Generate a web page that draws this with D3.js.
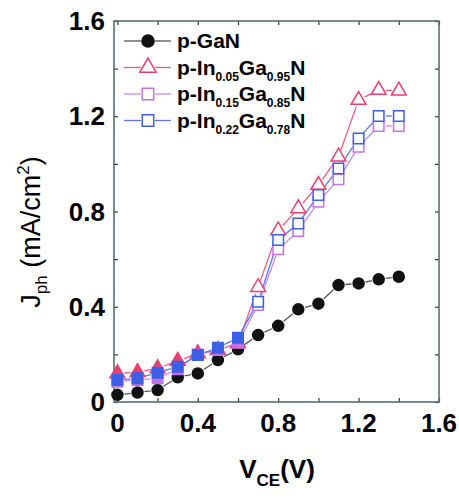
<!DOCTYPE html>
<html>
<head>
<meta charset="utf-8">
<script src="https://cdn.jsdelivr.net/npm/d3@7/dist/d3.min.js"></script>
<style>
  body { margin: 0; background: #fff; }
  text { font-family: "Liberation Sans", Arial, sans-serif; }
</style>
</head>
<body>
<script>
// photocurrent density vs collector-emitter voltage
const vce    = [0, 0.1, 0.2, 0.3, 0.4, 0.5, 0.6, 0.7, 0.8, 0.9, 1.0, 1.1, 1.2, 1.3, 1.4];
const pGaN   = [0.03, 0.04, 0.05, 0.104, 0.12, 0.176, 0.221, 0.281, 0.32, 0.389, 0.413, 0.491, 0.498, 0.515, 0.526];
const pIn005 = [0.12, 0.125, 0.141, 0.172, 0.204, 0.218, 0.246, 0.482, 0.72, 0.813, 0.911, 1.03, 1.268, 1.31, 1.307];
const pIn015 = [0.085, 0.092, 0.10, 0.138, 0.2, 0.218, 0.249, 0.407, 0.641, 0.718, 0.841, 0.935, 1.072, 1.159, 1.159];
const pIn022 = [0.092, 0.10, 0.123, 0.148, 0.197, 0.228, 0.27, 0.421, 0.68, 0.75, 0.869, 0.981, 1.107, 1.201, 1.201];
const filledUpTo = 0.6;   // low-bias points of the InGaN samples are solid

const xTicks = [0, 0.4, 0.8, 1.2, 1.6];
const yTicks = [0, 0.4, 0.8, 1.2, 1.6];
const minorTicks = [0, 0.2, 0.4, 0.6, 0.8, 1.0, 1.2, 1.4, 1.6];

const series = [
  { label: [["p-GaN", 0]], y: pGaN, color: "#111", line: "#555", shape: d3.symbolCircle, size: 95, allFilled: true },
  { label: [["p-In", 0], ["0.05", 1], ["Ga", 0], ["0.95", 1], ["N", 0]], y: pIn005, color: "#e8406e", line: "#ec5a80", shape: d3.symbolTriangle, size: 95 },
  { label: [["p-In", 0], ["0.15", 1], ["Ga", 0], ["0.85", 1], ["N", 0]], y: pIn015, color: "#c471e6", line: "#c98ae8", shape: d3.symbolSquare, size: 110 },
  { label: [["p-In", 0], ["0.22", 1], ["Ga", 0], ["0.78", 1], ["N", 0]], y: pIn022, color: "#3d5fe8", line: "#5a78ea", shape: d3.symbolSquare, size: 110 }
];

const width = 459, height = 498;
const margin = { top: 21, right: 20, bottom: 96, left: 114 };
const w = width - margin.left - margin.right;
const h = height - margin.top - margin.bottom;

const svg = d3.select("body").append("svg")
  .attr("width", width).attr("height", height);

const x = d3.scaleLinear().domain([-0.017, 1.6]).range([0, w]);
const y = d3.scaleLinear().domain([0, 1.6]).range([h, 0]);

const chart = svg.append("g").attr("transform", `translate(${margin.left},${margin.top})`);

// inward ticks on all four sides
const frameColor = "#587070";
chart.append("g").attr("transform", `translate(0,${h})`)
  .call(d3.axisBottom(x).tickValues(minorTicks).tickSize(-4).tickFormat(""));
chart.append("g")
  .call(d3.axisTop(x).tickValues(minorTicks).tickSize(-4).tickFormat(""));
chart.append("g")
  .call(d3.axisLeft(y).tickValues(minorTicks).tickSize(-4).tickFormat(""));
chart.append("g").attr("transform", `translate(${w},0)`)
  .call(d3.axisRight(y).tickValues(minorTicks).tickSize(-4).tickFormat(""));
chart.selectAll(".domain").remove();
chart.selectAll(".tick line").attr("stroke", "#333").attr("stroke-width", 1.2);

chart.append("rect")
  .attr("width", w).attr("height", h)
  .attr("fill", "none").attr("stroke", frameColor).attr("stroke-width", 1.6);

// tick labels
svg.selectAll(".xl").data(xTicks).enter().append("text")
  .attr("x", d => margin.left + x(d)).attr("y", margin.top + h + 30)
  .attr("text-anchor", "middle").attr("font-weight", "bold").attr("font-size", 26)
  .text(d => d3.format("~g")(d));
svg.selectAll(".yl").data(yTicks).enter().append("text")
  .attr("x", 105).attr("y", d => margin.top + y(d) + 9)
  .attr("text-anchor", "end").attr("font-weight", "bold").attr("font-size", 26)
  .text(d => d3.format("~g")(d));

// series lines: segments broken around each marker
const gap = 7;
series.forEach(s => {
  const pts = vce.map((v, i) => [x(v), y(s.y[i])]);
  const segs = [];
  for (let i = 0; i < pts.length - 1; i++) {
    const [x0, y0] = pts[i], [x1, y1] = pts[i + 1];
    const len = Math.hypot(x1 - x0, y1 - y0);
    if (len <= 2 * gap) continue;
    const ux = (x1 - x0) / len, uy = (y1 - y0) / len;
    segs.push([x0 + ux * gap, y0 + uy * gap, x1 - ux * gap, y1 - uy * gap]);
  }
  chart.append("g").selectAll("line").data(segs).enter().append("line")
    .attr("x1", d => d[0]).attr("y1", d => d[1])
    .attr("x2", d => d[2]).attr("y2", d => d[3])
    .attr("stroke", s.line).attr("stroke-width", 1.3);
});

series.forEach(s => {
  chart.append("g").selectAll("path").data(vce).enter().append("path")
    .attr("transform", (d, i) => `translate(${x(d)},${y(s.y[i])})`)
    .attr("d", d3.symbol().type(s.shape).size(s.size))
    .attr("fill", d => (s.allFilled || d <= filledUpTo) ? s.color : "#fff")
    .attr("stroke", s.color).attr("stroke-width", 1.5);
});

// legend
const legend = svg.append("g");
series.forEach((s, i) => {
  const ly = 41 + i * 26.5;
  const g = legend.append("g").attr("transform", `translate(0,${ly})`);
  g.append("line").attr("x1", 124).attr("x2", 141).attr("y1", 0).attr("y2", 0)
    .attr("stroke", s.line).attr("stroke-width", 1.3);
  g.append("line").attr("x1", 155).attr("x2", 171).attr("y1", 0).attr("y2", 0)
    .attr("stroke", s.line).attr("stroke-width", 1.3);
  g.append("path").attr("transform", "translate(148,0)")
    .attr("d", d3.symbol().type(s.shape).size(s.size + 20))
    .attr("fill", s.allFilled ? s.color : "#fff")
    .attr("stroke", s.color).attr("stroke-width", 1.5);
  const t = g.append("text").attr("x", 177).attr("y", 7)
    .attr("font-weight", "bold").attr("font-size", 21);
  s.label.forEach(([txt, sub], k) => {
    const prev = k > 0 ? s.label[k - 1][1] : 0;
    t.append("tspan")
      .attr("dy", sub ? 6 : (prev ? -6 : 0))
      .attr("font-size", sub ? 12 : 21)
      .text(txt);
  });
});

// axis titles
const yt = svg.append("text")
  .attr("transform", "translate(40,232) rotate(-90)")
  .attr("text-anchor", "middle").attr("font-size", 27);
yt.append("tspan").text("J");
yt.append("tspan").attr("dy", 7).attr("font-size", 17).text("ph");
yt.append("tspan").attr("dy", -7).text(" (mA/cm");
yt.append("tspan").attr("dy", -11).attr("font-size", 17).text("2");
yt.append("tspan").attr("dy", 11).text(")");

const xt = svg.append("text")
  .attr("x", 277).attr("y", 478)
  .attr("text-anchor", "middle").attr("font-weight", "bold").attr("font-size", 26);
xt.append("tspan").text("V");
xt.append("tspan").attr("dy", 8).attr("font-size", 17).text("CE");
xt.append("tspan").attr("dy", -8).text("(V)");
</script>
</body>
</html>
